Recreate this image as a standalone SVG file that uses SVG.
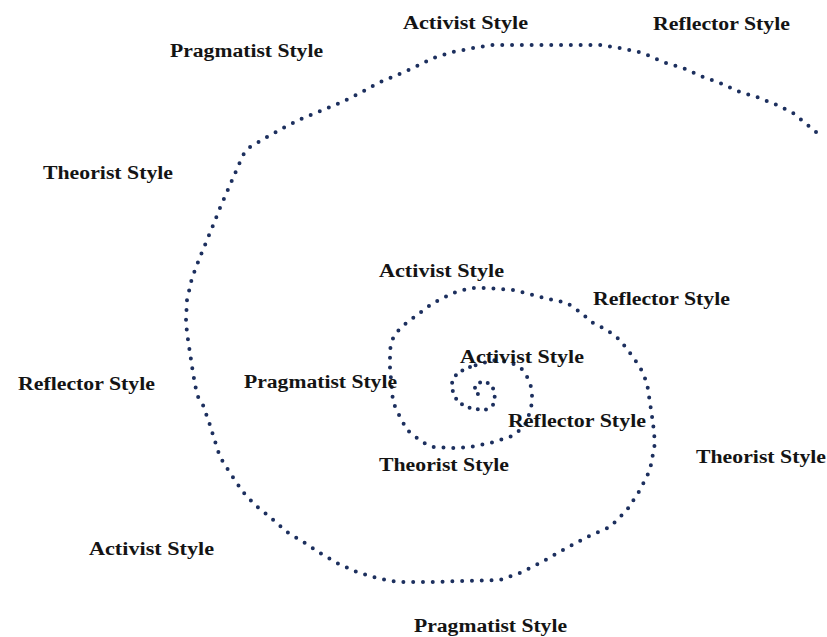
<svg xmlns="http://www.w3.org/2000/svg" width="827" height="637" viewBox="0 0 827 637">
<style>
.lbl{font-family:"Liberation Serif","Times New Roman",serif;font-weight:bold;font-size:18px;fill:#141414}
.dots{fill:none;stroke:#1c2f5e;stroke-width:4;stroke-linecap:round;stroke-linejoin:round}
</style>
<rect width="827" height="637" fill="#ffffff"/>
<g id="connectors">
<polyline class="dots" stroke-dasharray="0 9.8" points="816,132 793,113 777,105 757,97 740,92 720,83 703,77 683,68 663,62 643,53 620,48 600,45 527,45 493,45 473,48 453,52 433,58 413,68 397,75 378,83 360,93 342,102 323,110 303,118 285,127 267,137 250,147 243,155 230,185 220,208 212,228 200,257 192,278 187,300 186,320 187,333 190,353 193,373 197,395 203,405 210,425 213,435 220,457 230,473 243,492 255,505 270,517 287,532 305,543 320,553 337,563 357,572 377,578 397,582 430,582 500,580 520,573 540,563 563,550 587,537 610,527 627,510 640,490 650,470 655,443 653,423 650,403 647,383 640,367 630,353 620,340 607,330 593,323 580,312 567,303 553,300 533,295 513,290 487,288 470,288 453,293 433,303 417,315 400,328 392,340 390,350 390,368 392,390 393,402 398,413 407,430 422,442 433,447 453,448 470,447 490,443 510,437 520,430 527,422 532,403 532,393 530,382 523,370 517,365 507,362 493,360 470,367"/>
<polyline class="dots" stroke-dasharray="0 8.4" points="470,367 457,373 452,383 453,393 458,402 467,407 475,409 485,410 493,405 495,395 492,385 483,381 475,385 475,393 483,396"/>
</g>
<g id="n1"><text class="lbl" x="403" y="29" textLength="125" lengthAdjust="spacingAndGlyphs">Activist Style</text></g>
<g id="n2"><text class="lbl" x="653" y="30" textLength="137" lengthAdjust="spacingAndGlyphs">Reflector Style</text></g>
<g id="n3"><text class="lbl" x="170" y="57" textLength="153" lengthAdjust="spacingAndGlyphs">Pragmatist Style</text></g>
<g id="n4"><text class="lbl" x="43" y="179" textLength="130" lengthAdjust="spacingAndGlyphs">Theorist Style</text></g>
<g id="n5"><text class="lbl" x="379" y="277" textLength="125" lengthAdjust="spacingAndGlyphs">Activist Style</text></g>
<g id="n6"><text class="lbl" x="593" y="305" textLength="137" lengthAdjust="spacingAndGlyphs">Reflector Style</text></g>
<g id="n7"><text class="lbl" x="460" y="363" textLength="124" lengthAdjust="spacingAndGlyphs">Activist Style</text></g>
<g id="n8"><text class="lbl" x="244" y="388" textLength="153" lengthAdjust="spacingAndGlyphs">Pragmatist Style</text></g>
<g id="n9"><text class="lbl" x="18" y="390" textLength="137" lengthAdjust="spacingAndGlyphs">Reflector Style</text></g>
<g id="n10"><text class="lbl" x="508" y="427" textLength="138" lengthAdjust="spacingAndGlyphs">Reflector Style</text></g>
<g id="n11"><text class="lbl" x="379" y="471" textLength="130" lengthAdjust="spacingAndGlyphs">Theorist Style</text></g>
<g id="n12"><text class="lbl" x="696" y="463" textLength="130" lengthAdjust="spacingAndGlyphs">Theorist Style</text></g>
<g id="n13"><text class="lbl" x="89" y="555" textLength="125" lengthAdjust="spacingAndGlyphs">Activist Style</text></g>
<g id="n14"><text class="lbl" x="414" y="632" textLength="153" lengthAdjust="spacingAndGlyphs">Pragmatist Style</text></g>
</svg>
